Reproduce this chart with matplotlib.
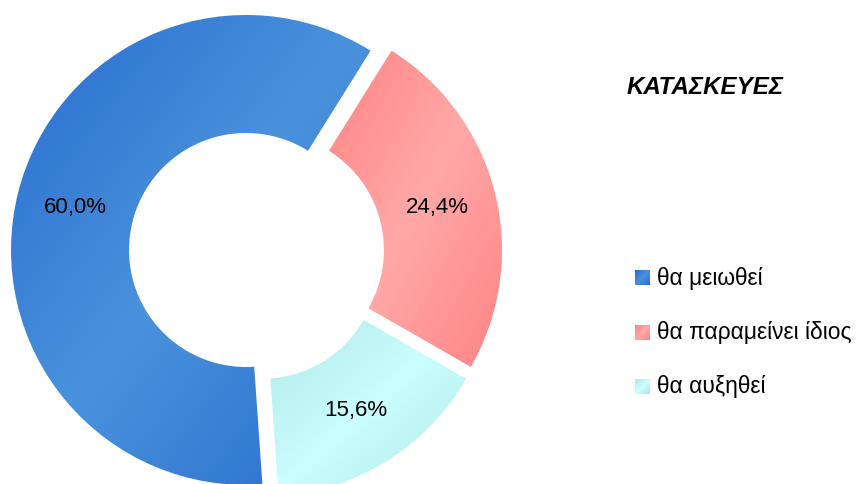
import numpy as np
import matplotlib
matplotlib.use("Agg")
import matplotlib.pyplot as plt
from matplotlib.colors import to_rgb

# Data
categories = ["θα μειωθεί", "θα παραμείνει ίδιος", "θα αυξηθεί"]
shares = [60.0, 24.4, 15.6]
title = "ΚΑΤΑΣΚΕΥΕΣ"

# Gradient colour pairs (edge colour, centre colour) per slice
dark_colors = ["#286dcf", "#ff8383", "#b0e8e7"]
light_colors = ["#4a92dc", "#ffa8a8", "#cbfefe"]

plt.rcParams["font.family"] = ["Liberation Sans", "DejaVu Sans"]

W, H = 857, 484
fig = plt.figure(figsize=(W / 100, H / 100), dpi=100)
ax = fig.add_axes([0, 0, 1, 1])
ax.set_aspect("equal")
ax.axis("off")

outer_r = 235
ring = 118
center = (256.5, H - 252.6)


def axial_gradient(dark, light, n=200):
    xs = np.linspace(0, 1, n)
    gx, gy = np.meshgrid(xs, xs)
    # image row 0 is the top edge (origin='upper')
    t = 1 - np.abs(gx + gy - 1)
    d = np.array(to_rgb(dark))
    l = np.array(to_rgb(light))
    return d[None, None, :] * (1 - t[..., None]) + l[None, None, :] * t[..., None]


wedges, texts, autotexts = ax.pie(
    shares,
    center=center,
    radius=outer_r,
    startangle=-86,
    counterclock=False,
    explode=[10.8] * len(shares),
    colors=light_colors,
    wedgeprops=dict(width=ring, linewidth=0),
    autopct=lambda p: f"{p:.1f}%".replace(".", ","),
    pctdistance=(outer_r - ring / 2) / outer_r,
    textprops=dict(fontsize=16, color="black"),
    frame=False,
)

for w, dk, lt in zip(wedges, dark_colors, light_colors):
    ext = w.get_path().get_extents()
    img = axial_gradient(dk, lt)
    im = ax.imshow(img, extent=(ext.x0, ext.x1, ext.y0, ext.y1),
                   origin="upper", interpolation="bilinear", zorder=1.5)
    im.set_clip_path(w)
    w.set_facecolor("none")

for t in autotexts:
    t.set_zorder(3)

# Title
ax.text(627, H - 88, title, fontsize=17.4, fontweight="bold", fontstyle="italic",
        ha="left", va="center", zorder=3)

# Legend
leg_y = [278, 333, 387]
for lab, dk, lt, y in zip(categories, dark_colors, light_colors, leg_y):
    img = axial_gradient(dk, lt, n=20)
    ax.imshow(img, extent=(635, 650, H - y - 7.5, H - y + 7.5), origin="upper",
              interpolation="bilinear", zorder=3)
    ax.text(657, H - y, lab, fontsize=16.4, ha="left", va="center", zorder=3)

ax.set_xlim(0, W)
ax.set_ylim(0, H)
fig.savefig("out.png", dpi=100)
